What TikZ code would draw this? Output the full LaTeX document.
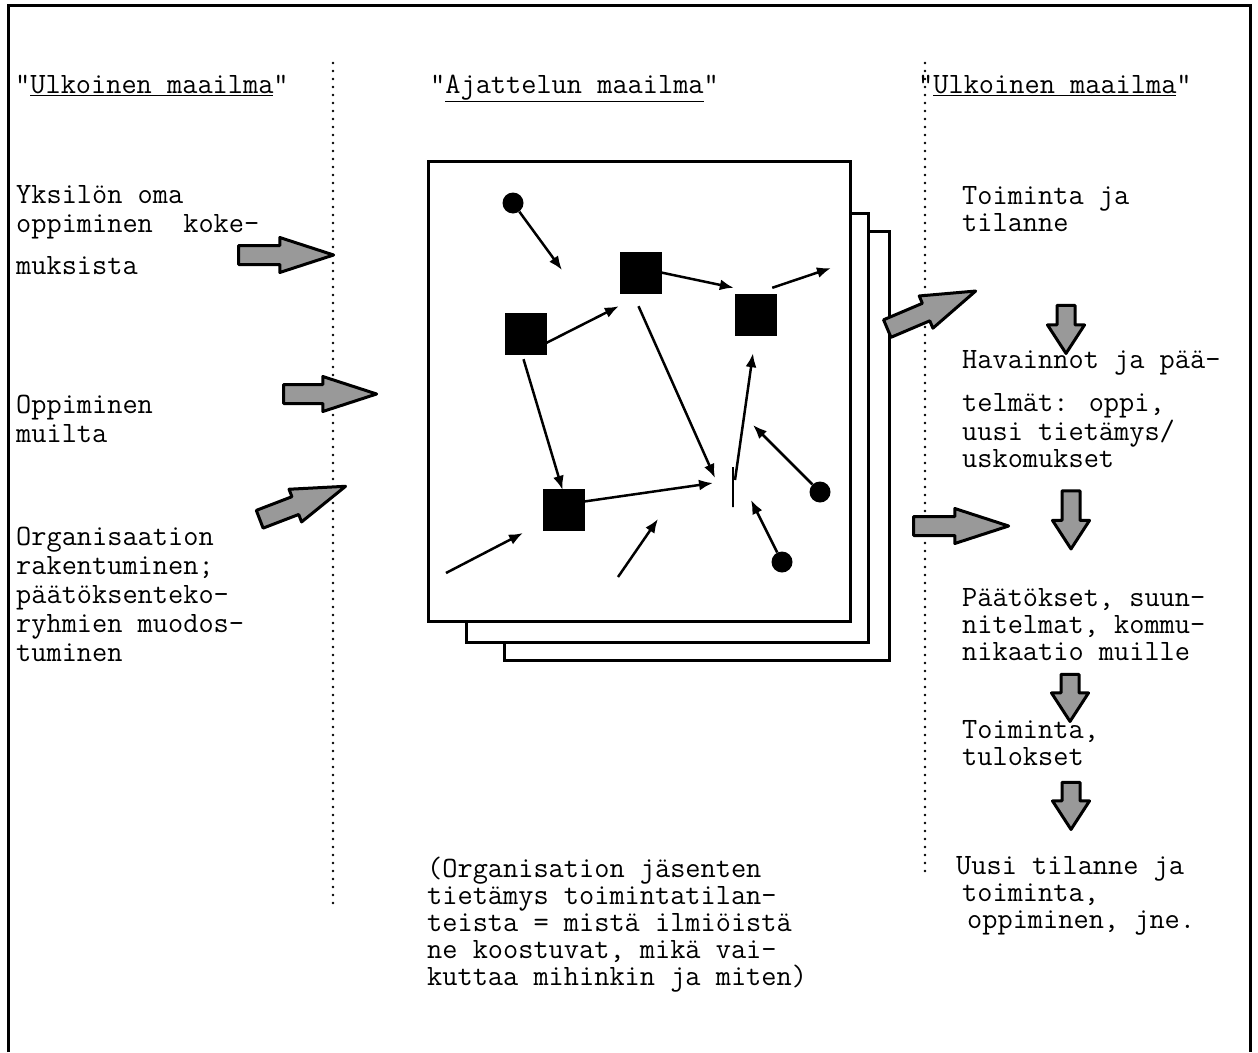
\documentclass[tikz,border=0pt]{standalone}
\usepackage{fontspec}
\setmainfont{Liberation Mono}[Ligatures=TeXOff]
\usetikzlibrary{shapes.arrows,arrows.meta}
\begin{document}
\begin{tikzpicture}[x=1pt,y=-1pt,
  txt/.style={anchor=base west, align=left, inner sep=0pt, font=\ttfamily\fontsize{29.5}{29}\selectfont},
  txtb/.style={txt, font=\ttfamily\fontsize{29.5}{27}\selectfont},
  page/.style={draw, fill=white, line width=3pt, inner sep=0pt, anchor=north west},
  sq/.style={rectangle, fill=black, draw=black, minimum size=41pt, inner sep=0pt},
  blob/.style={circle, fill=black, minimum size=21pt, inner sep=0pt},
  arr/.style={line width=2.5pt, -{Latex[length=14pt,width=11pt]}},
  sep/.style={line width=2.6pt, line cap=round, dash pattern=on 0pt off 8pt},
  blk/.style={single arrow, draw=black, fill=black!40, line width=3pt, inner xsep=0pt, inner ysep=8pt,
    single arrow head extend=8pt, single arrow tip angle=36, line join=round},
  blkdown/.style={single arrow, draw=black, fill=black!40, line width=3pt, inner xsep=0pt, inner ysep=7.5pt,
    single arrow head extend=9.5pt, single arrow tip angle=66, rotate=-90, line join=round},
]
\useasboundingbox (0,0) rectangle (1258,1052);
% frame
\draw[line width=3pt] (8,1052) -- (8,5) -- (1250,5) -- (1250,1052);
% separators
\draw[sep] (333,63) -- (333,905);
\draw[sep] (925,63) -- (925,877);
% headers
\node[txt] (h1) at (15,93) {"\underline{Ulkoinen maailma}"};
\node[txt] (h2) at (430,93) {"\underline{Ajattelun maailma}"};
\node[txt] (h3) at (918,93) {"\underline{Ulkoinen maailma}"};
% left texts (anchored at the baseline of the last line)
\node[txt] (t1) at (16,274) {Yksilön oma\\oppiminen\ \ koke-\\[13pt]muksista};
\node[txt] (t2) at (16,442) {Oppiminen\\muilta};
\node[txt] (t3) at (16,661) {Organisaation\\rakentuminen;\\päätöksenteko-\\ryhmien muodos-\\tuminen};
% right texts
\node[txtb] (r1) at (962,231) {Toiminta ja\\tilanne};
\node[txtb] (r2) at (962,467) {Havainnot ja pää-\\[16pt]telmät: oppi,\\uusi tietämys/\\uskomukset};
\node[txtb] (r3) at (962,660) {Päätökset, suun-\\nitelmat, kommu-\\nikaatio muille};
\node[txtb] (r4) at (962,765) {Toiminta,\\tulokset};
\node[txtb] (r5) at (956,928) {Uusi tilanne ja\\\hspace*{6pt}toiminta,\\\hspace*{11pt}oppiminen, jne.};
% bottom text
\node[txtb] (b1) at (427,985) {(Organisation jäsenten\\tietämys toimintatilan-\\teista = mistä ilmiöistä\\ne koostuvat, mikä vai-\\kuttaa mihinkin ja miten)};
% pages
\node[page, minimum width=385pt, minimum height=429pt] (p3) at (503,230) {};
\node[page, minimum width=402pt, minimum height=429pt] (p2) at (465,212) {};
\node[page, minimum width=422pt, minimum height=460pt] (p1) at (427,160) {};
% graph nodes
\node[sq] (A) at (525.5,333.5) {};
\node[sq] (B) at (640.5,272.5) {};
\node[sq] (C) at (755.5,314.5) {};
\node[sq] (D) at (563.5,509.5) {};
\node[blob] (c1) at (513,203) {};
\node[blob] (c2) at (820,492) {};
\node[blob] (c3) at (782,562) {};
\node[draw, line width=2.5pt, inner sep=0pt, minimum width=0pt, minimum height=40pt] (J) at (733,487) {};
% free ends
\coordinate (e1) at (562,270);
\coordinate (e4) at (831,268);
\coordinate (e9) at (753,425);
\coordinate (e10) at (751,500);
\coordinate (s11) at (446,573);
\coordinate (e11) at (523,533);
\coordinate (s12) at (618,577);
\coordinate (e12) at (658,519);
% graph arrows
\draw[arr] (c1) -- (e1);
\draw[arr] ([shift={(0,9.5)}]A.east) -- ([shift={(-1,13)}]B.south west);
\draw[arr] (B.east) -- ([shift={(-1,-6)}]C.north west);
\draw[arr] ([shift={(-4,-6)}]C.north east) -- (e4);
\draw[arr] ([shift={(-2,5)}]A.south) -- ([shift={(-1,1)}]D.north);
\draw[arr] ([shift={(-2,13)}]B.south) -- ([shift={(-18,-9)}]J.center);
\draw[arr] ([shift={(0,-8)}]D.east) -- ([shift={(-20,-4)}]J.center);
\draw[arr] ([shift={(2,-7)}]J.center) -- ([shift={(-2.5,18)}]C.south);
\draw[arr] (c2) -- (e9);
\draw[arr] (c3) -- (e10);
\draw[arr] (s11) -- (e11);
\draw[arr] (s12) -- (e12);
% block arrows
\node[blk, minimum height=95pt] (L1) at (271.5,255) {};
\node[blk, minimum height=93pt] (L2) at (315.5,394) {};
\node[blk, minimum height=92pt, rotate=21] (L3) at (289,508) {};
\node[blk, minimum height=96pt, rotate=23] (R1) at (918,315.5) {};
\node[blk, minimum height=95pt] (R2) at (946.5,526) {};
\node[blkdown, minimum height=48pt] (D1) at (1066,322.5) {};
\node[blkdown, minimum height=58pt] (D2) at (1071,513) {};
\node[blkdown, minimum height=47pt] (D3) at (1070,691) {};
\node[blkdown, minimum height=47pt] (D4) at (1071,799) {};
\end{tikzpicture}
\end{document}
